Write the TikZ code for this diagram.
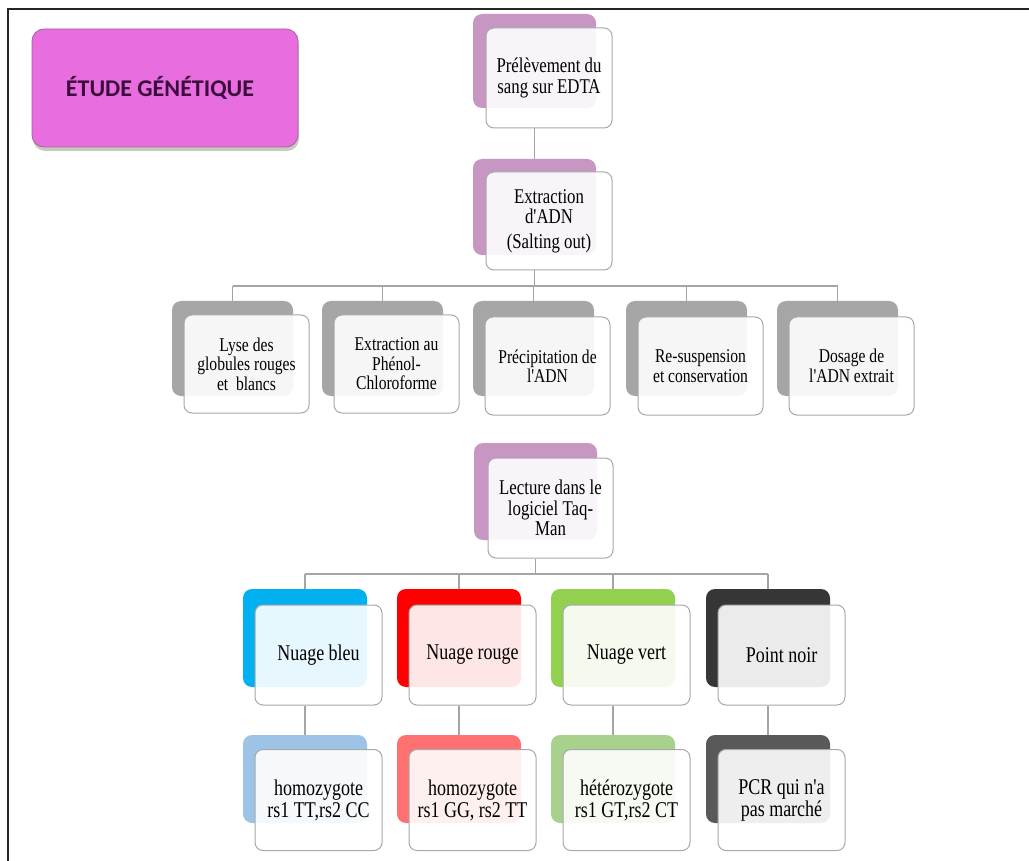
\documentclass[tikz,border=0pt]{standalone}
\usepackage{fontspec}
\setmainfont{Liberation Serif}
\newfontfamily\boxfont[FakeStretch=0.8]{Liberation Serif}
\newfontfamily\titlefont{Carlito}
\usetikzlibrary{shadows}
\definecolor{purp}{HTML}{C796C3}
\definecolor{grayb}{HTML}{A6A6A6}
\definecolor{cblue}{HTML}{00B0F0}
\definecolor{cred}{HTML}{FF0000}
\definecolor{cgreen}{HTML}{92D050}
\definecolor{cdark}{HTML}{363636}
\definecolor{lblue}{HTML}{9DC3E6}
\definecolor{lred}{HTML}{FF7070}
\definecolor{lgreen}{HTML}{A9D18E}
\definecolor{ldark}{HTML}{595959}
\definecolor{titlefill}{HTML}{E86EE0}
\definecolor{titleborder}{HTML}{A65FA0}
\definecolor{titletext}{HTML}{3C0D3C}
\definecolor{frameg}{HTML}{A8A8A8}
\definecolor{lineg}{HTML}{A5A5A5}
\definecolor{shadowc}{HTML}{7F8F70}
\tikzset{
  back/.style={rounded corners=9pt, draw=none, inner sep=0pt},
  front/.style={rounded corners=8pt, draw=frameg, line width=1pt, fill=white,
    fill opacity=0.9, text opacity=1, draw opacity=1, align=center, inner sep=2pt,
    text=black, font=\boxfont\fontsize{21}{20.5}\selectfont},
  frontsmall/.style={front, font=\boxfont\fontsize{19.5}{19.5}\selectfont},
  frontbig/.style={front, font=\boxfont\fontsize{22.5}{22}\selectfont},
  link/.style={draw=lineg, line width=1.2pt},
  rowtwoB/.style={back, fill=grayb, minimum width=121pt, minimum height=95pt},
  rowtwoF/.style={frontsmall, minimum width=125pt, minimum height=98pt},
  rowfourB/.style={back, minimum width=124pt, minimum height=98pt},
  rowfourF/.style={frontbig, minimum width=127pt, minimum height=100pt},
  rowfiveB/.style={back, minimum width=124pt, minimum height=88pt},
  rowfiveF/.style={frontbig, minimum width=127pt, minimum height=101pt},
}
\begin{document}
\begin{tikzpicture}[x=1pt,y=-1pt]
\useasboundingbox (0,0) rectangle (1029,861);
\fill[white] (0,0) rectangle (1029,861);
% frame
\draw[line width=2.2pt, color=black!85] (8,861) -- (8,9) -- (1029,9);
% title
\node[rounded corners=12pt, fill=titlefill, draw=titleborder, line width=0.8pt,
  minimum width=266pt, minimum height=118pt,
  drop shadow={shadow xshift=1pt, shadow yshift=-4pt, fill=shadowc, opacity=0.45},
  text=titletext, font=\titlefont\bfseries\fontsize{24}{26}\selectfont] (title) at (165,88) {ÉTUDE GÉNÉTIQUE\hspace*{10pt}};
% top chain
\node[back, fill=purp, minimum width=123pt, minimum height=94pt] (pB) at (534.5,61) {};
\node[front, minimum width=126pt, minimum height=100pt] (p) at (549,78) {Prélèvement du\\sang sur EDTA};
\node[back, fill=purp, minimum width=123pt, minimum height=96pt] (eB) at (534.5,207) {};
\node[front, minimum width=126pt, minimum height=98pt] (e) at (549,221) {Extraction\\d'ADN\\[4pt](Salting out)};
\draw[link] (p.south -| pB) -- (eB.north);
% row 2
\node[rowtwoB] (aB) at (232.5,348.5) {};
\node[rowtwoF] (a) at (246.5,364) {Lyse des\\globules rouges\\et~ blancs};
\node[rowtwoB] (bB) at (382.5,348.5) {};
\node[rowtwoF] (b) at (396.5,364) {Extraction au\\Phénol-\\Chloroforme};
\node[rowtwoB] (cB) at (533.5,348.5) {};
\node[rowtwoF] (c) at (547.5,366) {Précipitation de\\l'ADN};
\node[rowtwoB] (dB) at (686.5,348.5) {};
\node[rowtwoF] (d) at (700.5,366) {Re-suspension\\et conservation};
\node[rowtwoB] (fB) at (837.5,348.5) {};
\node[rowtwoF] (f) at (851.5,366) {Dosage de\\l'ADN extrait};
\coordinate (busA) at (534.5,286);
\draw[link] (e.south -| eB) -- (busA);
\draw[link] (aB.north |- busA) -- (fB.north |- busA);
\foreach \n in {aB,bB,cB,dB,fB} \draw[link] (\n.north |- busA) -- (\n.north);
% lecture
\node[back, fill=purp, minimum width=123pt, minimum height=97pt] (lB) at (535.5,491.5) {};
\node[front, minimum width=125pt, minimum height=100pt] (l) at (550.5,508) {Lecture dans le\\logiciel Taq-\\Man};
\coordinate (busB) at (535.5,574);
\draw[link] (l.south -| lB) -- (busB);
% row 4
\node[rowfourB, fill=cblue] (gB) at (305,638) {};
\node[rowfourF] (g) at (318.5,655) {Nuage bleu};
\node[rowfourB, fill=cred] (hB) at (459,638) {};
\node[rowfourF] (h) at (472.5,655) {Nuage rouge};
\node[rowfourB, fill=cgreen] (iB) at (613,638) {};
\node[rowfourF] (i) at (626.5,655) {Nuage vert};
\node[rowfourB, fill=cdark] (jB) at (768,638) {};
\node[rowfourF] (j) at (781.5,655) {Point noir};
\draw[link] (gB.north |- busB) -- (jB.north |- busB);
\foreach \n in {gB,hB,iB,jB} \draw[link] (\n.north |- busB) -- (\n.north);
% row 5
\node[rowfiveB, fill=lblue] (kB) at (305,779) {};
\node[rowfiveF] (k) at (318.5,800) {homozygote\\rs1 TT,rs2 CC};
\node[rowfiveB, fill=lred] (mB) at (459,779) {};
\node[rowfiveF] (m) at (472.5,800) {homozygote\\rs1 GG, rs2 TT};
\node[rowfiveB, fill=lgreen] (nB) at (613,779) {};
\node[rowfiveF] (n) at (626.5,800) {hétérozygote\\rs1 GT,rs2 CT};
\node[rowfiveB, fill=ldark] (oB) at (768,779) {};
\node[rowfiveF] (o) at (781.5,800) {PCR qui n'a\\pas marché};
\draw[link] (g.south -| gB) -- (kB.north);
\draw[link] (h.south -| hB) -- (mB.north);
\draw[link] (i.south -| iB) -- (nB.north);
\draw[link] (j.south -| jB) -- (oB.north);
\end{tikzpicture}
\end{document}
